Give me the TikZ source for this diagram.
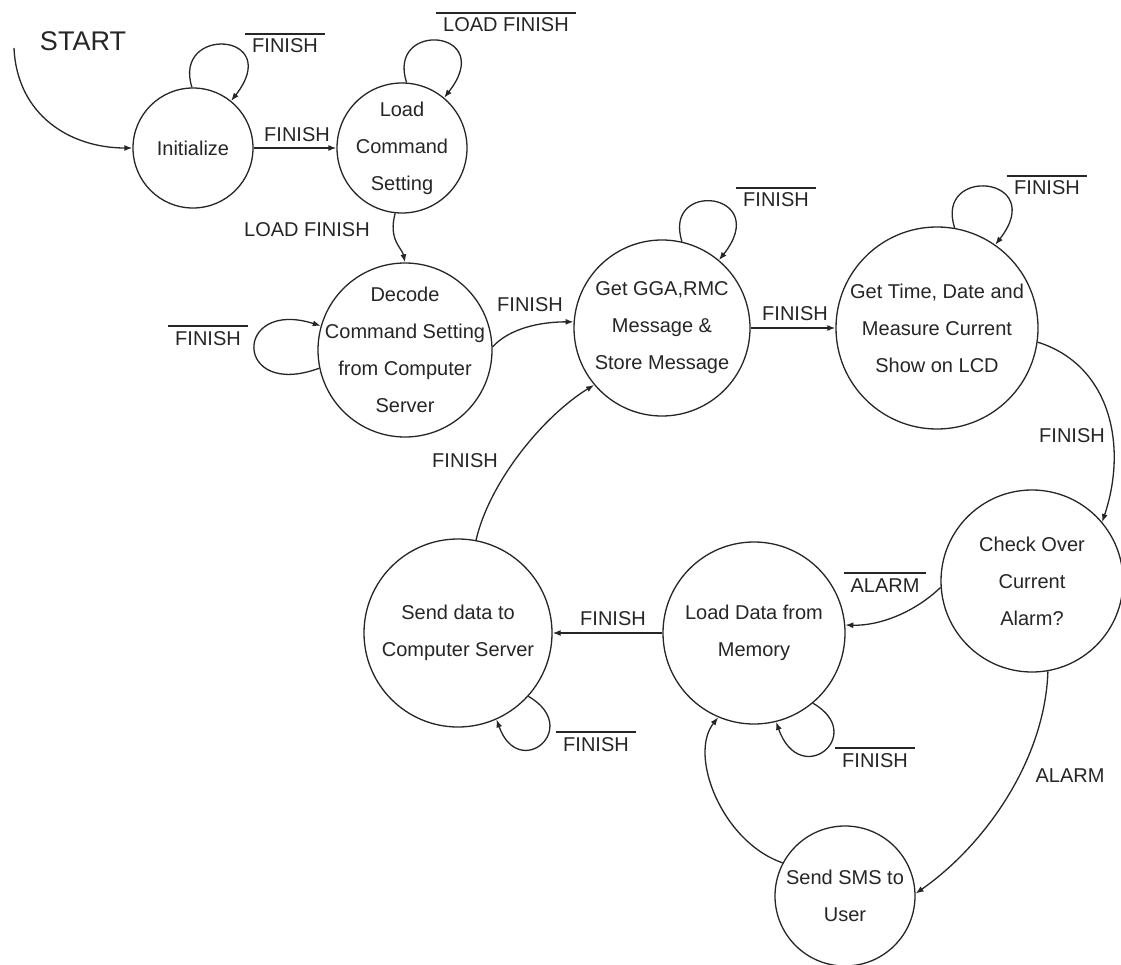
\documentclass[tikz,border=0pt]{standalone}
\usepackage{fontspec}
\setmainfont{Liberation Sans}
\usetikzlibrary{arrows.meta}
\definecolor{ink}{HTML}{262626}
\newcommand\ovl[1]{\vbox{\hrule height 1.3pt\kern4.5pt\hbox{\kern7pt #1\kern7pt}}}
\begin{document}
\begin{tikzpicture}[x=1pt,y=-1pt,
  st/.style={circle, draw=ink, line width=1.3pt, inner sep=-60pt, align=center,
    font=\fontsize{20}{37}\selectfont, text=ink},
  lbl/.style={anchor=base, inner sep=0pt, font=\fontsize{20}{24}\selectfont, text=ink},
  edge/.style={draw=ink, line width=1.3pt, -{Latex[length=8pt,width=6pt]}}]
\path[use as bounding box, fill=white] (0,0) rectangle (1121,965);

% states
\node[st, minimum size=120pt] (init) at (193,148) {Initialize};
\node[st, minimum size=130pt] (load) at (402,148) {Load\\Command\\Setting};
\node[st, minimum size=174pt] (decode) at (405,350) {Decode\\Command Setting\\from Computer\\Server};
\node[st, minimum size=176pt] (gga) at (662,328) {Get GGA,RMC\\Message \&\\Store Message};
\node[st, minimum size=202pt] (time) at (937,328) {Get Time, Date and\\Measure Current\\Show on LCD};
\node[st, minimum size=182pt] (check) at (1032,581) {Check Over\\Current\\Alarm?};
\node[st, minimum size=182pt] (loaddata) at (754,633) {Load Data from\\Memory};
\node[st, minimum size=188pt] (send) at (458,633) {Send data to\\Computer Server};
\node[st, minimum size=140pt] (sms) at (845,896) {Send SMS to\\User};

% start
\node[lbl, font=\fontsize{27}{30}\selectfont] (startlbl) at (83,51) {START};
\coordinate (start) at (14,48);
\draw[edge] (start) .. controls (17,115) and (70,148) .. (init.west);

% transitions
\draw[edge] (init.91) .. controls (172,25) and (285,32) .. (init.51);
\node[lbl] (l1) at (285,53) {\ovl{FINISH}};

\draw[edge] (init) -- (load);
\node[lbl] (l2) at (297,142) {FINISH};

\draw[edge] (load.86) .. controls (386,20) and (498,29) .. (load.50);
\node[lbl] (l3) at (506,32) {\ovl{LOAD FINISH}};

\draw[edge] (load.264) .. controls (388,240) and (402,248) .. (decode.90);
\node[lbl] (l4) at (307,237) {LOAD FINISH};

\draw[edge] (decode.192) .. controls (233,400) and (233,298) .. (decode.164);
\node[lbl] (l5) at (208,345) {\ovl{FINISH}};

\draw[edge] (decode.2) .. controls (505,333) and (530,322) .. (gga.176);
\node[lbl] (l6) at (530,312) {FINISH};

\draw[edge] (gga.77) .. controls (662,179) and (773,192) .. (gga.50);
\node[lbl] (l7) at (776,207) {\ovl{FINISH}};

\draw[edge] (gga) -- (time);
\node[lbl] (l8) at (795,320) {FINISH};

\draw[edge] (time.80) .. controls (934,165) and (1049,176) .. (time.55);
\node[lbl] (l9) at (1047,195) {\ovl{FINISH}};

\draw[edge] (time.-8) .. controls (1110,365) and (1128,445) .. (check.40);
\node[lbl] (l10) at (1072,442) {FINISH};

\draw[edge] (check.184) .. controls (915,612) and (880,626) .. (loaddata.5);
\node[lbl] (l11) at (885,592) {\ovl{ALARM}};

\draw[edge] (check.-80) .. controls (1045,760) and (985,845) .. (sms.2);
\node[lbl] (l12) at (1070,782) {ALARM};

\draw[edge] (loaddata.-50) .. controls (868,735) and (800,790) .. (loaddata.-76);
\node[lbl] (l13) at (875,767) {\ovl{FINISH}};

\draw[edge] (sms.152) .. controls (722,842) and (688,755) .. (loaddata.247);

\draw[edge] (loaddata) -- (send);
\node[lbl] (l14) at (613,625) {FINISH};

\draw[edge] (send.-42) .. controls (583,728) and (519,782) .. (send.-66);
\node[lbl] (l15) at (596,751) {\ovl{FINISH}};

\draw[edge] (send.79) .. controls (490,480) and (545,415) .. (gga.220);
\node[lbl] (l16) at (465,467) {FINISH};
\end{tikzpicture}
\end{document}
